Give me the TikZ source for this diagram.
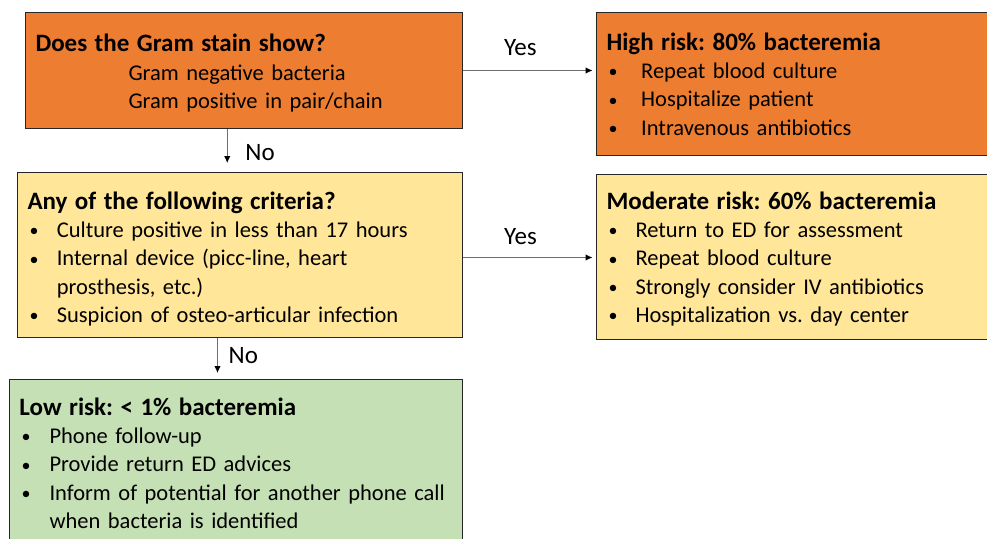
\documentclass[tikz,border=0pt]{standalone}
\usepackage{fontspec}
\setmainfont{Carlito}
\usepackage{tikz}
\usetikzlibrary{calc,arrows.meta}
\frenchspacing
\definecolor{orangeq}{HTML}{ED7D31}
\definecolor{jaune}{HTML}{FFE699}
\definecolor{vert}{HTML}{C5E0B4}
\definecolor{bord}{HTML}{262626}
\definecolor{trait}{HTML}{6F6F6F}
\tikzstyle{boite} = [rectangle, draw=bord, line width=1pt, inner xsep=10pt, inner ysep=0pt, align=left, anchor=north west, font=\fontsize{22.5}{28.2}\selectfont]
\tikzstyle{fleche} = [draw=trait, line width=1pt, -{Latex[length=7pt,width=6.5pt,color=black]}]
\tikzstyle{etiquette} = [inner sep=0pt, font=\fontsize{25}{28}\selectfont]
\newcommand{\titre}[1]{{\fontsize{25}{28.2}\selectfont\bfseries #1}}
\newcommand{\puce}[2]{\hspace*{2pt}\makebox[#1][l]{\raisebox{0.8pt}{\fontsize{18}{18}\selectfont\textbullet}}#2}

\begin{document}
\begin{tikzpicture}[x=1pt, y=-1pt]

        \useasboundingbox (0,0) rectangle (987,538);
        \clip (0,0) rectangle (987,538);

        \node (Q1) [boite, fill=orangeq, text width=416.7pt, text height=39pt, text depth=77pt] at (25,12) {%
            \titre{Does the Gram stain show?}\\[1pt]
            \hspace*{93pt}Gram negative bacteria\\
            \hspace*{93pt}Gram positive in pair/chain};

        \node (H1) [boite, fill=orangeq, text width=420pt, text height=38pt, text depth=105pt] at (596,12) {%
            \titre{High risk: 80\% bacteremia}\\
            \puce{32.7pt}{Repeat blood culture}\\
            \puce{32.7pt}{Hospitalize patient}\\
            \puce{32.7pt}{Intravenous antibiotics}};

        \node (Y1) [boite, fill=jaune, text width=425pt, text height=37pt, text depth=128pt] at (17,172) {%
            \titre{Any of the following criteria?}\\
            \puce{27.3pt}{Culture positive in less than 17 hours}\\
            \puce{27.3pt}{Internal device (picc-line, heart}\\
            \hspace*{29.3pt}prosthesis, etc.)\\
            \puce{27.3pt}{Suspicion of osteo-articular infection}};

        \node (M1) [boite, fill=jaune, text width=420pt, text height=35pt, text depth=130pt] at (596,174) {%
            \titre{Moderate risk: 60\% bacteremia}\\
            \puce{27pt}{Return to ED for assessment}\\
            \puce{27pt}{Repeat blood culture}\\
            \puce{27pt}{Strongly consider IV antibiotics}\\
            \puce{27pt}{Hospitalization vs. day center}};

        \node (L1) [boite, fill=vert, text width=433pt, text height=36pt, text depth=132pt] at (9,379) {%
            \titre{Low risk: < 1\% bacteremia}\\
            \puce{28pt}{Phone follow-up}\\
            \puce{28pt}{Provide return ED advices}\\
            \puce{28pt}{Inform of potential for another phone call}\\
            \hspace*{30pt}when bacteria is identified};

        % oui
        \coordinate (B1) at (Q1.east);
        \coordinate (B2) at ($(Y1.east)+(0,2.5)$);
        \draw [fleche, shorten >=3.5pt] (B1) -- node[etiquette, above=14pt, xshift=-9pt]{Yes} (B1 -| H1.west);
        \draw [fleche, shorten >=3.5pt] (B2) -- node[etiquette, above=12pt, xshift=-9pt]{Yes} (B2 -| M1.west);

        % non
        \coordinate (A1) at ($(Q1.south)+(-16.6,0)$);
        \coordinate (A2) at ($(Y1.south)+(-22.5,0)$);
        \draw [fleche, shorten >=9pt] (A1) -- (A1 |- Y1.north);
        \draw [fleche, shorten >=6pt] (A2) -- (A2 |- L1.north);
        \node (N1) [etiquette, anchor=west] at ($(A1)+(18,24)$) {No};
        \node (N2) [etiquette, anchor=west] at ($(A2)+(11,18)$) {No};

    \end{tikzpicture}
\end{document}
